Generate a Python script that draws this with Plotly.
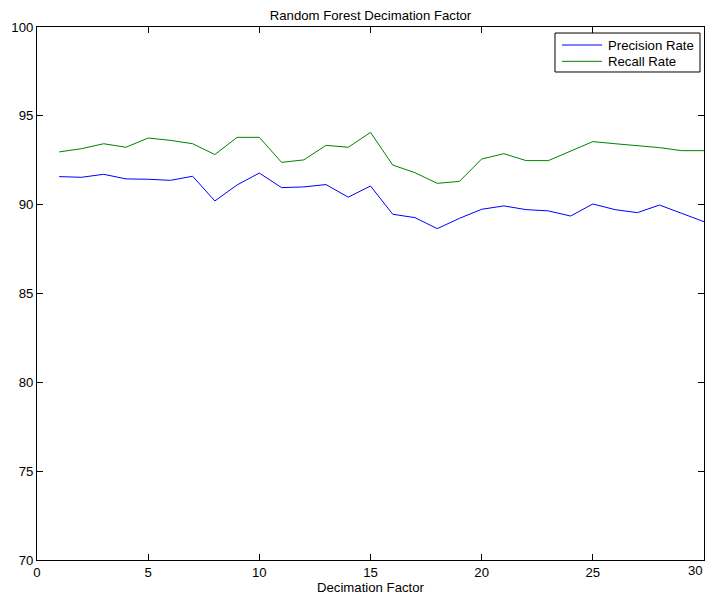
import plotly.graph_objects as go

x_vals = list(range(1, 31))
precision = [91.58, 91.54, 91.71, 91.45, 91.43, 91.37, 91.60, 90.21, 91.11, 91.78,
             90.96, 91.00, 91.13, 90.42, 91.05, 89.46, 89.27, 88.65, 89.23, 89.74,
             89.93, 89.72, 89.65, 89.36, 90.04, 89.72, 89.55, 89.98, 89.51, 89.04]
recall = [92.97, 93.15, 93.43, 93.23, 93.75, 93.62, 93.43, 92.82, 93.79, 93.79,
          92.38, 92.52, 93.34, 93.23, 94.07, 92.23, 91.80, 91.20, 91.31, 92.57,
          92.87, 92.48, 92.48, 93.00, 93.55, 93.43, 93.34, 93.21, 93.04, 93.04]
series_names = ["Precision Rate", "Recall Rate"]
series_colors = ["#0000ff", "#008000"]
x_ticks = [0, 5, 10, 15, 20, 25, 30]
x_tick_labels = ["0", "5", "10", "15", "20", "25", "30"]
y_ticks = [70, 75, 80, 85, 90, 95, 100]

FS = 13.2

fig = go.Figure()
for name, vals, col in zip(series_names, [precision, recall], series_colors):
    fig.add_trace(go.Scatter(x=x_vals, y=vals, mode="lines", name=name,
                             line=dict(color=col, width=1), showlegend=False))

# MATLAB-style legend box (drawn in paper coordinates)
fig.add_shape(type="rect", xref="paper", yref="paper",
              x0=0.7766, x1=0.994, y0=0.9156, y1=0.9887,
              line=dict(color="black", width=1), fillcolor="white", layer="above")
legend_rows_y = [0.9662, 0.9356]
for name, col, yy in zip(series_names, series_colors, legend_rows_y):
    fig.add_shape(type="line", xref="paper", yref="paper",
                  x0=0.7871, x1=0.8471, y0=yy, y1=yy,
                  line=dict(color=col, width=1), layer="above")
    fig.add_annotation(text=name, xref="paper", yref="paper", x=0.8531, y=yy,
                       xanchor="left", yanchor="middle", showarrow=False,
                       font=dict(size=FS, color="black"))

# last x tick label kept inside the visible page (right-aligned at the axis end)
tick_text_shown = x_tick_labels[:-1] + [""]
fig.add_annotation(text=x_tick_labels[-1], xref="x", yref="paper", x=x_ticks[-1], y=0,
                   xanchor="right", yanchor="top", xshift=1, yshift=-1,
                   showarrow=False, font=dict(size=FS, color="black"))

axis_common = dict(showgrid=False, zeroline=False, showline=True, linecolor="black",
                   linewidth=1, mirror="ticks", ticks="inside", ticklen=6,
                   tickcolor="black", tickfont=dict(size=FS, color="black"),
                   automargin=False)
# page body has an 8px margin, so the figure is 8px smaller and margins shifted
fig.update_layout(
    width=705, height=590,
    paper_bgcolor="white", plot_bgcolor="white",
    margin=dict(l=29, r=9, t=19, b=38, autoexpand=False),
    font=dict(family="Liberation Sans, Arial, sans-serif", size=FS, color="black"),
    title=dict(text="Random Forest Decimation Factor", x=0.5, xref="paper",
               xanchor="center", y=0.988, yref="container", yanchor="middle",
               pad=dict(t=0, b=0), font=dict(size=FS)),
    xaxis=dict(range=[0, 30], tickvals=x_ticks, ticktext=tick_text_shown,
               title=dict(text="Decimation Factor", standoff=1, font=dict(size=FS)),
               **axis_common),
    yaxis=dict(range=[70, 100], tickvals=y_ticks, **axis_common),
    showlegend=False,
)

fig.write_html("out.html")
